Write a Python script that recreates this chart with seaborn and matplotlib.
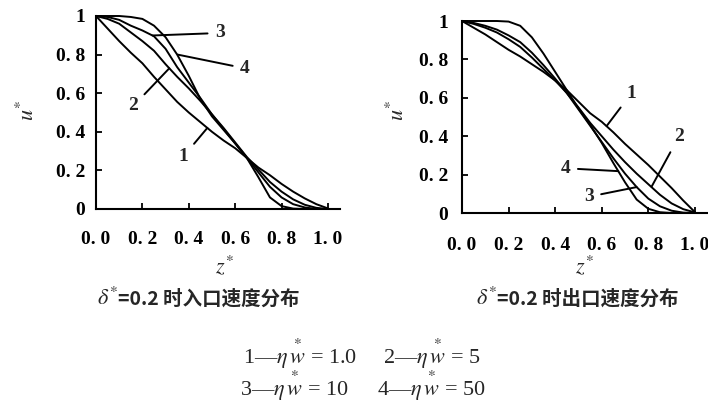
import matplotlib
matplotlib.use("Agg")  # headless
import matplotlib.pyplot as plt
import pandas as pd
import seaborn as sns

# ── 資料 ──────────────────────────────────────────────────────────────────────
Z = [0.00, 0.05, 0.10, 0.15, 0.20, 0.25, 0.30, 0.35, 0.40, 0.45, 0.50,
     0.55, 0.60, 0.65, 0.70, 0.75, 0.80, 0.85, 0.90, 0.95, 1.00]

# 入口速度分布 u*(z*)
INLET_1 = [1.000, 0.935, 0.870, 0.810, 0.755, 0.685, 0.620, 0.555, 0.500, 0.450, 0.400,
           0.355, 0.315, 0.265, 0.215, 0.175, 0.130, 0.090, 0.055, 0.025, 0.003]
INLET_2 = [1.000, 0.985, 0.960, 0.915, 0.870, 0.820, 0.750, 0.685, 0.625, 0.560, 0.490,
           0.420, 0.345, 0.270, 0.205, 0.140, 0.090, 0.050, 0.022, 0.006, 0.000]
INLET_3 = [1.000, 0.995, 0.980, 0.950, 0.925, 0.895, 0.830, 0.735, 0.655, 0.575, 0.490,
           0.415, 0.340, 0.265, 0.190, 0.115, 0.060, 0.025, 0.008, 0.000, 0.000]
INLET_4 = [1.000, 1.000, 1.000, 0.995, 0.985, 0.950, 0.890, 0.800, 0.690, 0.570, 0.480,
           0.410, 0.340, 0.265, 0.165, 0.060, 0.015, 0.002, 0.000, 0.000, 0.000]

# 出口速度分布 u*(z*)
OUTLET_1 = [1.000, 0.965, 0.930, 0.890, 0.850, 0.815, 0.775, 0.735, 0.690, 0.640, 0.580,
            0.520, 0.475, 0.420, 0.360, 0.305, 0.250, 0.190, 0.130, 0.065, 0.005]
OUTLET_2 = [1.000, 0.985, 0.965, 0.940, 0.905, 0.865, 0.810, 0.750, 0.690, 0.625, 0.550,
            0.470, 0.400, 0.330, 0.265, 0.205, 0.150, 0.095, 0.050, 0.020, 0.003]
OUTLET_3 = [1.000, 0.990, 0.975, 0.955, 0.925, 0.890, 0.835, 0.770, 0.700, 0.625, 0.540,
            0.455, 0.370, 0.285, 0.205, 0.135, 0.075, 0.035, 0.012, 0.002, 0.000]
OUTLET_4 = [1.000, 1.000, 1.000, 1.000, 0.997, 0.975, 0.915, 0.830, 0.735, 0.640, 0.545,
            0.460, 0.365, 0.260, 0.160, 0.070, 0.022, 0.004, 0.000, 0.000, 0.000]

CURVE_IDS = ["1", "2", "3", "4"]
ETA_W = ["1.0", "5", "10", "50"]

U_TICKS = [0, 0.2, 0.4, 0.6, 0.8, 1.0]
U_TICK_LABELS = ["0", "0. 2", "0. 4", "0. 6", "0. 8", "1"]
Z_TICKS = [0, 0.2, 0.4, 0.6, 0.8, 1.0]
Z_TICK_LABELS = ["0. 0", "0. 2", "0. 4", "0. 6", "0. 8", "1. 0"]

DELTA = "0.2"
CAPTIONS = ["时入口速度分布", "时出口速度分布"]

# ── 樣式 ──────────────────────────────────────────────────────────────────────
sns.set_theme(style="ticks")
plt.rcParams["font.family"] = ["Liberation Serif", "DejaVu Sans"]
plt.rcParams["mathtext.fontset"] = "stix"
plt.rcParams["axes.unicode_minus"] = False

SERIF = ["Liberation Serif", "DejaVu Sans"]
CJK = ["Noto Sans CJK SC", "DejaVu Sans"]
LW = 1.4


def long_frame(series):
    parts = [pd.DataFrame({"z": Z, "u": u, "curve": cid})
             for cid, u in zip(CURVE_IDS, series)]
    return pd.concat(parts, ignore_index=True)


def draw_panel(ax, series, labels, ypad, xpad):
    df = long_frame(series)
    sns.lineplot(data=df, x="z", y="u", units="curve", estimator=None,
                 color="black", linewidth=LW, legend=False, ax=ax)
    for line in ax.lines:
        line.set_clip_on(False)
        line.set_solid_joinstyle("round")

    ax.set_xlim(0, 1.052)
    ax.set_ylim(0, 1.0)
    ax.set_xticks(Z_TICKS)
    ax.set_xticklabels(Z_TICK_LABELS)
    ax.set_yticks(U_TICKS)
    ax.set_yticklabels(U_TICK_LABELS)
    ax.set_xlabel("")
    ax.set_ylabel("")
    sns.despine(ax=ax)
    for side in ("left", "bottom"):
        ax.spines[side].set_linewidth(1.5)
        ax.spines[side].set_color("black")
    ax.tick_params(direction="in", length=4, width=1.3, colors="black",
                   labelsize=14)
    ax.tick_params(axis="y", pad=ypad)
    ax.tick_params(axis="x", pad=xpad)
    for t in ax.get_xticklabels() + ax.get_yticklabels():
        t.set_fontweight("bold")
        t.set_family(SERIF)

    # 曲線編號與引線
    for cid, (target, text_pos) in labels.items():
        ax.annotate(cid, xy=target, xytext=text_pos, ha="center", va="center",
                    fontsize=14, fontweight="bold", family=SERIF,
                    arrowprops=dict(arrowstyle="-", lw=1.4, color="black",
                                    shrinkA=3, shrinkB=0),
                    annotation_clip=False)


def main():
    fig = plt.figure(figsize=(7.08, 4.08), dpi=100)
    ax_in = fig.add_axes([96 / 708, 1 - 209 / 408, 244 / 708, 193 / 408])
    ax_out = fig.add_axes([462 / 708, 1 - 213 / 408, 245 / 708, 192 / 408])

    inlet_labels = {
        "3": ((0.244, 0.899), (0.534, 0.912)),
        "4": ((0.352, 0.800), (0.642, 0.729)),
        "2": ((0.316, 0.729), (0.161, 0.534)),
        "1": ((0.480, 0.420), (0.376, 0.271)),
    }
    outlet_labels = {
        "1": ((0.621, 0.453), (0.727, 0.623)),
        "2": ((0.814, 0.137), (0.931, 0.397)),
        "4": ((0.671, 0.218), (0.445, 0.233)),
        "3": ((0.750, 0.135), (0.545, 0.085)),
    }
    draw_panel(ax_in, [INLET_1, INLET_2, INLET_3, INLET_4], inlet_labels, 8, 16)
    draw_panel(ax_out, [OUTLET_1, OUTLET_2, OUTLET_3, OUTLET_4], outlet_labels, 10, 17)

    # 軸標籤
    for xu, xz in ((28, 224), (398, 584)):
        fig.text(xu / 708, 1 - 110 / 408, r"$u^{*}$", rotation=90,
                 ha="center", va="center", fontsize=16)
        fig.text(xz / 708, 1 - 266 / 408, r"$z^{*}$",
                 ha="center", va="center", fontsize=16)

    # 子圖標題
    for x_split, cap in zip((118, 497), CAPTIONS):
        fig.text(x_split / 708, 1 - 305 / 408, r"$\delta^{*}$",
                 ha="right", va="baseline", fontsize=16)
        fig.text(x_split / 708, 1 - 305 / 408, f"={DELTA} {cap}",
                 ha="left", va="baseline", fontsize=14, family=CJK,
                 fontweight="bold")

    # 圖例說明
    rows = [(354, 0, (243, 383)), (386, 2, (240, 377))]
    for y, start, xs in rows:
        for k, x in enumerate(xs):
            i = start + k
            fig.text(x / 708, 1 - y / 408,
                     f"{CURVE_IDS[i]}—" + r"$\eta\,\overset{*}{w}$" + f" = {ETA_W[i]}",
                     ha="left", va="center", fontsize=16, family=SERIF)

    fig.savefig("out.png", dpi=100)
    plt.close(fig)


if __name__ == "__main__":
    main()
